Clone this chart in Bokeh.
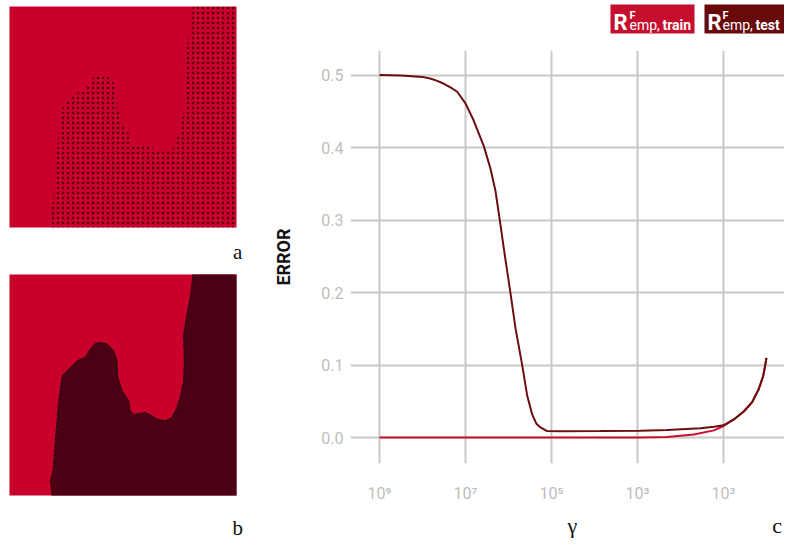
from bokeh.plotting import figure
from bokeh.models import Range1d, FixedTicker, Label, PrintfTickFormatter, LinearAxis
from bokeh.layouts import row, column
from bokeh.embed import file_html
from bokeh.resources import INLINE

# ---------------- data ----------------
# decision boundary (normalised square coordinates, bottom -> top)
boundary_x = [0.188, 0.180, 0.192, 0.202, 0.217, 0.232, 0.254, 0.276, 0.298, 0.334,
              0.356, 0.378, 0.400, 0.430, 0.459, 0.474, 0.477, 0.496, 0.525, 0.532,
              0.547, 0.576, 0.598, 0.620, 0.650, 0.686, 0.716, 0.738, 0.752, 0.767,
              0.770, 0.767, 0.782, 0.796, 0.804, 0.808]
boundary_y = [0.000, 0.066, 0.112, 0.248, 0.429, 0.542, 0.565, 0.588, 0.610, 0.625,
              0.663, 0.689, 0.693, 0.686, 0.656, 0.610, 0.535, 0.474, 0.429, 0.384,
              0.366, 0.372, 0.376, 0.366, 0.346, 0.338, 0.353, 0.399, 0.444, 0.520,
              0.610, 0.731, 0.822, 0.897, 0.958, 1.000]
corner_x = [1.0, 1.0]
corner_y = [1.0, 0.0]
square = [0.0, 1.0]

# error curves (x = position on the gamma axis, in decades)
gamma_tick_pos = [9, 7, 5, 3, 1]
gamma_tick_labels = ["10⁹", "10⁷", "10⁵", "10³", "10³"]
error_ticks = [0.0, 0.1, 0.2, 0.3, 0.4, 0.5]

tail_x = [0.76, 0.528, 0.333, 0.179, 0.077, 0.023, 0.0]
tail_err = [0.025, 0.036, 0.049, 0.067, 0.085, 0.102, 0.110]

test_x = [9.0, 8.5, 8.0, 7.8, 7.658, 7.5, 7.35, 7.193, 7.0, 6.807, 6.574, 6.419, 6.302,
          6.202, 6.109, 5.953, 5.837, 5.681, 5.565, 5.449, 5.349, 5.256, 5.10, 4.79,
          3.86, 2.93, 2.31, 1.535, 1.22, 1.0] + tail_x
test_err = [0.500, 0.4995, 0.4975, 0.495, 0.492, 0.488, 0.483, 0.477, 0.461, 0.437,
            0.402, 0.371, 0.340, 0.300, 0.261, 0.199, 0.151, 0.100, 0.058, 0.032,
            0.019, 0.014, 0.009, 0.0088, 0.009, 0.0095, 0.0106, 0.0128, 0.015,
            0.017] + tail_err

train_x = [9.0, 5.0, 3.86, 2.93, 2.31, 1.69, 1.22, 1.0] + tail_x
train_err = [0.0, 0.0, 0.0, 0.0003, 0.001, 0.0044, 0.0100, 0.016] + tail_err

RED = "#C8002A"
DARK = "#4B0014"
TRAIN = "#C8102E"
TEST = "#6B0E12"
LEG_TRAIN = "#C60F2E"
LEG_TEST = "#680A0C"
SERIF = "Liberation Serif"

region_x = boundary_x + corner_x
region_y = boundary_y + corner_y


def panel(letter, height, y_start, y_end, letter_y):
    p = figure(width=248, height=height,
               x_range=Range1d(-0.0396, 1.0529), y_range=Range1d(y_start, y_end),
               x_axis_location=None, y_axis_location=None,
               output_backend="svg", toolbar_location=None,
               min_border_left=0, min_border_right=0, min_border_top=0,
               min_border_bottom=0)
    p.outline_line_color = None
    p.grid.visible = False
    p.quad(left=square[0], right=square[1], bottom=square[0], top=square[1],
           fill_color=RED, line_color=None)
    p.add_layout(Label(x=1.005, y=letter_y, text=letter, text_font=SERIF,
                       text_font_size="21px", text_color="#111111",
                       text_align="center", text_baseline="alphabetic"))
    return p


pa = panel("a", 268, -0.1855, 1.0271, -0.113)
pa.patch(region_x, region_y, fill_alpha=0, line_color=None, hatch_pattern="dot",
         hatch_color="black", hatch_scale=5, hatch_alpha=0.6)

pb = panel("b", 272, -0.2036, 1.0271, -0.149)
pb.patch(region_x, region_y, fill_color=DARK, line_color=None)
pb.line(boundary_x, boundary_y, line_color="#111111", line_width=1, line_dash="3 1")

# ---------------- error chart ----------------
x_range = Range1d(9.674, -0.419)

p = figure(width=536, height=496, x_range=x_range,
           y_range=Range1d(-0.0357, 0.5339), output_backend="svg",
           toolbar_location=None, min_border_left=102, min_border_right=0,
           min_border_top=6, min_border_bottom=59)
p.outline_line_color = None

p.xaxis.ticker = FixedTicker(ticks=gamma_tick_pos)
p.xaxis.major_label_overrides = {pos: lab for pos, lab in zip(gamma_tick_pos, gamma_tick_labels)}
p.yaxis.ticker = FixedTicker(ticks=error_ticks)
p.yaxis.formatter = PrintfTickFormatter(format="%.1f")
p.xgrid.ticker = FixedTicker(ticks=gamma_tick_pos)
p.ygrid.ticker = FixedTicker(ticks=error_ticks)
p.grid.grid_line_color = "#C8C8C8"
p.grid.grid_line_width = 2

for ax in (p.xaxis[0], p.yaxis[0]):
    ax.axis_line_color = None
    ax.major_tick_line_color = None
    ax.minor_tick_line_color = None
    ax.major_label_text_font = "Roboto"
    ax.major_label_text_font_size = "16px"
    ax.major_label_text_color = "#BDBDBD"
p.xaxis.major_label_standoff = 14
p.yaxis.major_label_standoff = 1

p.yaxis.axis_label = "ERROR"
p.yaxis.axis_label_text_font = "Roboto"
p.yaxis.axis_label_text_font_style = "bold"
p.yaxis.axis_label_text_font_size = "18px"
p.yaxis.axis_label_text_color = "#111111"
p.yaxis.axis_label_standoff = 24

# second row below the ticks: the axis title and the panel letter
name_pos = [4.512, -0.25]
name_text = ["γ", "c"]
name_axis = LinearAxis(ticker=FixedTicker(ticks=name_pos),
                       major_label_overrides={k: t for k, t in zip(name_pos, name_text)},
                       axis_line_color=None, major_tick_line_color=None,
                       minor_tick_line_color=None, major_label_standoff=1,
                       major_label_text_font=SERIF, major_label_text_font_size="22px",
                       major_label_text_color="#111111")
p.add_layout(name_axis, "below")

p.line(train_x, train_err, line_color=TRAIN, line_width=2)
p.line(test_x, test_err, line_color=TEST, line_width=2)

# ---------------- legend strip ----------------
leg = figure(width=536, height=44, x_range=x_range, y_range=Range1d(0, 1),
             x_axis_location=None, y_axis_location=None, output_backend="svg",
             toolbar_location=None, min_border_left=102, min_border_right=0,
             min_border_top=0, min_border_bottom=0)
leg.outline_line_color = None
leg.grid.visible = False

legend_left = [3.628, 1.442]
legend_right = [1.674, -0.6]
legend_colors = [LEG_TRAIN, LEG_TEST]
legend_words = ["train", "test"]
leg.quad(left=legend_left, right=legend_right, bottom=0.25, top=0.909,
         fill_color=legend_colors, line_color=None)


def legend_text(r_x, sub_x, word_x, word):
    leg.add_layout(Label(x=r_x, y=0.511, text="R", text_font="Roboto", text_font_size="22px",
                         text_font_style="bold", text_color="white",
                         text_align="left", text_baseline="alphabetic"))
    leg.add_layout(Label(x=sub_x, y=0.665, text="F", text_font="Roboto", text_font_size="11px",
                         text_font_style="bold", text_color="white",
                         text_align="left", text_baseline="alphabetic"))
    leg.add_layout(Label(x=sub_x, y=0.432, text="emp,", text_font="Roboto", text_font_size="14px",
                         text_color="white", text_align="left", text_baseline="alphabetic"))
    leg.add_layout(Label(x=word_x, y=0.432, text=word, text_font="Roboto", text_font_size="14px",
                         text_font_style="bold", text_color="white",
                         text_align="left", text_baseline="alphabetic"))


legend_text(3.558, 3.186, 2.419, legend_words[0])
legend_text(1.372, 1.023, 0.256, legend_words[1])

layout = row(column(pa, pb), column(leg, p))
open("out.html", "w").write(file_html(layout, INLINE))
